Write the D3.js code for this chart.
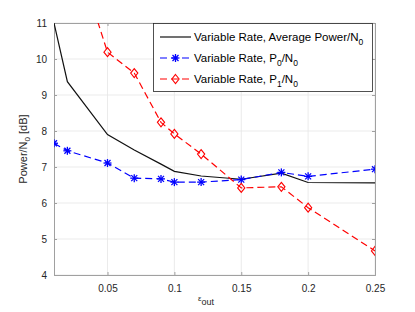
<!DOCTYPE html>
<html>
<head>
<meta charset="utf-8">
<script src="https://cdn.jsdelivr.net/npm/d3@7"></script>
<style>
  body { margin: 0; background: #fff; }
  svg { font-family: "Liberation Sans", Arial, sans-serif; }
</style>
</head>
<body>
<div id="chart"></div>
<script>
// data
const epsAvg = [0.01, 0.02, 0.05, 0.07, 0.09, 0.1, 0.12, 0.15, 0.18, 0.2, 0.25]
const avgPower = [11.0, 9.37, 7.9, 7.47, 7.08, 6.88, 6.75, 6.66, 6.83, 6.57, 6.56]

const epsP0 = [0.01, 0.02, 0.05, 0.07, 0.09, 0.1, 0.12, 0.15, 0.18, 0.2, 0.25]
const p0 = [7.66, 7.45, 7.11, 6.69, 6.67, 6.58, 6.58, 6.65, 6.85, 6.74, 6.94]

const epsP1 = [0.02, 0.05, 0.07, 0.09, 0.1, 0.12, 0.15, 0.18, 0.2, 0.25]
const p1 = [13.66, 10.19, 9.61, 8.24, 7.92, 7.36, 6.42, 6.45, 5.87, 4.67]

const xTicks = [0.05, 0.1, 0.15, 0.2, 0.25]
const yTicks = [4, 5, 6, 7, 8, 9, 10, 11]

const W = 415, H = 312
const m = {left: 54, top: 23, right: 40, bottom: 37}

const svg = d3.select('#chart').append('svg')
  .attr('width', W).attr('height', H)

const x = d3.scaleLinear().domain([0.01, 0.25]).range([m.left, W - m.right])
const y = d3.scaleLinear().domain([4, 11]).range([H - m.bottom, m.top])

// grid
svg.append('g').selectAll('line').data(xTicks).enter().append('line')
  .attr('x1', d => x(d)).attr('x2', d => x(d))
  .attr('y1', m.top).attr('y2', H - m.bottom)
  .attr('stroke', '#e6e6e6').attr('stroke-width', 0.8)
svg.append('g').selectAll('line').data(yTicks).enter().append('line')
  .attr('x1', m.left).attr('x2', W - m.right)
  .attr('y1', d => y(d)).attr('y2', d => y(d))
  .attr('stroke', '#e6e6e6').attr('stroke-width', 0.8)

// axes with inward ticks
const axisColor = '#262626'
const xAxis = svg.append('g').attr('transform', `translate(0,${H - m.bottom})`)
  .call(d3.axisBottom(x).tickValues(xTicks).tickSize(-3).tickPadding(10)
    .tickFormat(d => String(+d.toFixed(2))))
const xTop = svg.append('g').attr('transform', `translate(0,${m.top})`)
  .call(d3.axisTop(x).tickValues(xTicks).tickSize(-3).tickFormat(''))
const yAxis = svg.append('g').attr('transform', `translate(${m.left},0)`)
  .call(d3.axisLeft(y).tickValues(yTicks).tickSize(-3).tickPadding(7)
    .tickFormat(d3.format('d')))
const yRight = svg.append('g').attr('transform', `translate(${W - m.right},0)`)
  .call(d3.axisRight(y).tickValues(yTicks).tickSize(-3).tickFormat(''))

for (const g of [xAxis, xTop, yAxis, yRight]) {
  g.select('.domain').attr('stroke', '#a0a0a0').attr('stroke-width', 1)
  g.selectAll('.tick line').attr('stroke', '#a0a0a0')
  g.selectAll('.tick text').attr('fill', axisColor).attr('font-size', 10)
    .attr('font-family', '"Liberation Sans", Arial, sans-serif')
}

// clip
svg.append('clipPath').attr('id', 'clip').append('rect')
  .attr('x', m.left).attr('y', m.top)
  .attr('width', W - m.right - m.left).attr('height', H - m.bottom - m.top)

const plot = svg.append('g').attr('clip-path', 'url(#clip)')

const line = d3.line().x(d => x(d[0])).y(d => y(d[1]))

const avgData = epsAvg.map((e, i) => [e, avgPower[i]])
const p0Data = epsP0.map((e, i) => [e, p0[i]])
const p1Data = epsP1.map((e, i) => [e, p1[i]])

plot.append('path').datum(avgData).attr('d', line)
  .attr('fill', 'none').attr('stroke', '#111').attr('stroke-width', 1.2)

plot.append('path').datum(p0Data).attr('d', line)
  .attr('fill', 'none').attr('stroke', '#0000ff').attr('stroke-width', 1.2)
  .attr('stroke-dasharray', '7,4')

plot.append('path').datum(p1Data).attr('d', line)
  .attr('fill', 'none').attr('stroke', '#ff0000').attr('stroke-width', 1.2)
  .attr('stroke-dasharray', '7,4')

function star(g, cx, cy, r, color) {
  const s = g.append('g').attr('transform', `translate(${cx},${cy})`)
    .attr('stroke', color).attr('stroke-width', 1.3)
  s.append('line').attr('x1', -r).attr('x2', r).attr('y1', 0).attr('y2', 0)
  s.append('line').attr('x1', 0).attr('x2', 0).attr('y1', -r).attr('y2', r)
  const k = r * 0.75
  s.append('line').attr('x1', -k).attr('x2', k).attr('y1', -k).attr('y2', k)
  s.append('line').attr('x1', -k).attr('x2', k).attr('y1', k).attr('y2', -k)
}
function diamond(g, cx, cy, r, color) {
  g.append('path')
    .attr('d', `M${cx},${cy - r}L${cx + r * 0.8},${cy}L${cx},${cy + r}L${cx - r * 0.8},${cy}Z`)
    .attr('fill', 'none').attr('stroke', color).attr('stroke-width', 1.1)
}

p0Data.forEach(d => star(plot, x(d[0]), y(d[1]), 4, '#0000ff'))
p1Data.forEach(d => diamond(plot, x(d[0]), y(d[1]), 4.5, '#ff0000'))

// legend
const lg = svg.append('g')
lg.append('rect').attr('x', 153.5).attr('y', 23.5).attr('width', 219).attr('height', 68)
  .attr('fill', '#fff').attr('stroke', '#262626').attr('stroke-width', 0.8)

const legendRows = [
  {y: 37, color: '#111', dash: null, mark: null, base: 'Variable Rate, Average Power/N', sub: '0', tail: ''},
  {y: 58, color: '#0000ff', dash: '7,4', mark: 'star', base: 'Variable Rate, P', sub: '0', tail: '/N', sub2: '0'},
  {y: 79, color: '#ff0000', dash: '7,4', mark: 'diamond', base: 'Variable Rate, P', sub: '1', tail: '/N', sub2: '0'}
]
legendRows.forEach(r => {
  lg.append('line').attr('x1', 160).attr('x2', 191).attr('y1', r.y).attr('y2', r.y)
    .attr('stroke', r.color).attr('stroke-width', 1.2)
    .attr('stroke-dasharray', r.dash)
  if (r.mark === 'star') star(lg, 175.5, r.y, 4, r.color)
  if (r.mark === 'diamond') diamond(lg, 175.5, r.y, 4.5, r.color)
  const t = lg.append('text').attr('x', 194).attr('y', r.y + 4)
    .attr('font-size', 11.5).attr('fill', '#000')
  t.append('tspan').text(r.base)
  t.append('tspan').attr('font-size', 8.5).attr('dy', 4).text(r.sub)
  if (r.tail) {
    t.append('tspan').attr('dy', -4).text(r.tail)
    t.append('tspan').attr('font-size', 8.5).attr('dy', 4).text(r.sub2)
  }
})

// axis labels
const yl = svg.append('text')
  .attr('transform', `translate(27,${(m.top + H - m.bottom) / 2}) rotate(-90)`)
  .attr('text-anchor', 'middle').attr('font-size', 11).attr('fill', axisColor)
yl.append('tspan').text('Power/N')
yl.append('tspan').attr('font-size', 8).attr('dy', 3).text('0')
yl.append('tspan').attr('dy', -3).text(' [dB]')

const xl = svg.append('text').attr('x', 206).attr('y', 301)
  .attr('text-anchor', 'middle').attr('font-size', 10).attr('fill', axisColor)
xl.append('tspan').attr('font-size', 8).text('\u03b5')
xl.append('tspan').attr('font-size', 9).attr('dy', 4).text('out')
</script>
</body>
</html>
